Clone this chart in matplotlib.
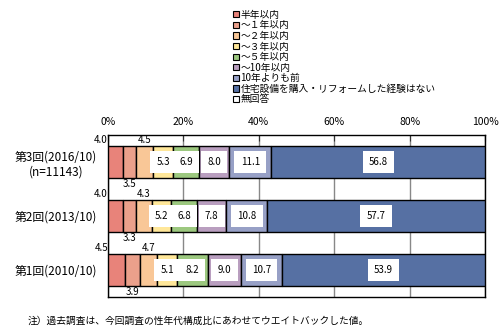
import matplotlib.pyplot as plt
from matplotlib.patches import Patch

plt.rcParams['font.family'] = ['Noto Sans CJK JP', 'DejaVu Sans']

rounds = ['第3回(2016/10)\n(n=11143)', '第2回(2013/10)', '第1回(2010/10)']
categories = ['半年以内', '～１年以内', '～２年以内', '～３年以内', '～５年以内',
              '～10年以内', '10年よりも前', '住宅設備を購入・リフォームした経験はない', '無回答']
values = [
    [4.0, 3.5, 4.5, 5.3, 6.9, 8.0, 11.1, 56.8, 0.0],
    [4.0, 3.3, 4.3, 5.2, 6.8, 7.8, 10.8, 57.7, 0.0],
    [4.5, 3.9, 4.7, 5.1, 8.2, 9.0, 10.7, 53.9, 0.0],
]
colors = ['#E8837A', '#EBA08B', '#F9C797', '#FFE799', '#9CC87F',
          '#B99EBF', '#97A0C6', '#5670A3', '#FFFFFF']
xticks = [0, 20, 40, 60, 80, 100]

fig = plt.figure(figsize=(5.02, 3.32), dpi=100)
ax = fig.add_axes([108 / 502, 35 / 332, 377 / 502, 162 / 332])

h = 0.59
for r, row in enumerate(values):
    left = 0
    for i, v in enumerate(row):
        if v > 0:
            ax.barh(r, v, left=left, height=h, color=colors[i],
                    edgecolor='black', linewidth=1.0, zorder=3)
        c = left + v / 2
        if i == 0:
            ax.text(left, r - h / 2 - 0.02, f'{v:.1f}', ha='right', va='bottom',
                    fontsize=7, zorder=4)
        elif i == 1:
            ax.text(c, r + h / 2 + 0.02, f'{v:.1f}', ha='center', va='top',
                    fontsize=7, zorder=4)
        elif i == 2:
            ax.text(c, r - h / 2 - 0.02, f'{v:.1f}', ha='center', va='bottom',
                    fontsize=7, zorder=4)
        elif v > 0:
            ax.text(c, r, f'{v:.1f}', ha='center', va='center', fontsize=7,
                    zorder=4, bbox=dict(facecolor='white', edgecolor='none', pad=4.5))
        left += v

ax.set_xlim(0, 100)
ax.set_ylim(2.5, -0.5)
ax.set_xticks(xticks)
ax.set_xticklabels([f'{t}%' for t in xticks], fontsize=7.5)
ax.xaxis.tick_top()
ax.tick_params(axis='x', direction='in', length=4, color='#333333', pad=6)
ax.set_yticks(range(len(rounds)))
ax.set_yticklabels(rounds, fontsize=8.5, multialignment='center')
ax.tick_params(axis='y', length=0, pad=8)
ax.grid(axis='x', color='#888888', linewidth=1.0, zorder=0)
for s in ax.spines.values():
    s.set_color('black')
    s.set_linewidth(1.0)

handles = [Patch(facecolor=c, edgecolor='black', linewidth=0.8) for c in colors]
fig.legend(handles, categories, loc='upper left', bbox_to_anchor=(226 / 502, 1 - 3 / 332),
           frameon=False, fontsize=7, handlelength=0.6, handleheight=0.6,
           handletextpad=0.2, labelspacing=0.06, borderpad=0.2)

fig.text(28 / 502, 1 - 321 / 332, '注）過去調査は、今回調査の性年代構成比にあわせてウエイトバックした値。',
         fontsize=7, va='center', ha='left')

fig.savefig('out.png', dpi=100)
